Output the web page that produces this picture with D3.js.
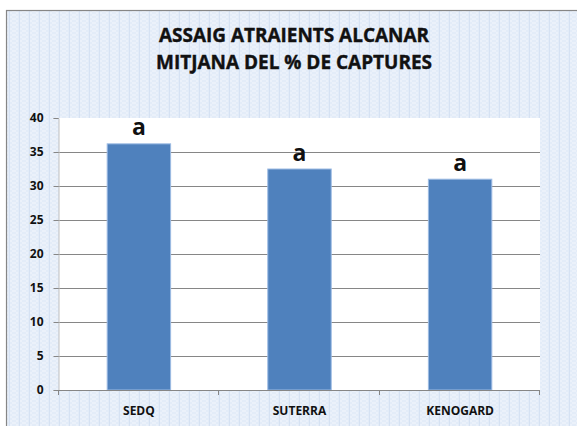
<!DOCTYPE html>
<html>
<head>
<meta charset="utf-8">
<script src="https://cdn.jsdelivr.net/npm/d3@7"></script>
<style>
  body { margin: 0; background: #fff; }
  svg { display: block; font-family: "Open Sans", sans-serif; }
</style>
</head>
<body>
<svg id="chart" width="577" height="426"></svg>
<script>
// dades del gràfic
const categories = ["SEDQ", "SUTERRA", "KENOGARD"];
const values = [36.2, 32.5, 31.0];
const letters = ["a", "a", "a"];
const yTicks = [0, 5, 10, 15, 20, 25, 30, 35, 40];
const titleLines = ["ASSAIG ATRAIENTS ALCANAR", "MITJANA DEL % DE CAPTURES"];

const svg = d3.select("#chart");

// fons amb trama blava
const defs = svg.append("defs");
const pat = defs.append("pattern")
    .attr("id", "trama")
    .attr("width", 10).attr("height", 4)
    .attr("patternUnits", "userSpaceOnUse");
pat.append("rect").attr("width", 10).attr("height", 4).attr("fill", "#e3ecf8");
pat.append("rect").attr("x", 0).attr("y", 0).attr("width", 2).attr("height", 2).attr("fill", "#ebf1fa");
pat.append("rect").attr("x", 2).attr("y", 2).attr("width", 2).attr("height", 2).attr("fill", "#ebf1fa");
pat.append("rect").attr("x", 6).attr("y", 0).attr("width", 2).attr("height", 2).attr("fill", "#ebf1fa");
pat.append("rect").attr("x", 4).attr("y", 2).attr("width", 2).attr("height", 2).attr("fill", "#ebf1fa");
pat.append("rect").attr("x", 9).attr("y", 0).attr("width", 1).attr("height", 4).attr("fill", "#d6e2f3");

svg.append("rect")
    .attr("x", 6.5).attr("y", 10.5)
    .attr("width", 600).attr("height", 450)
    .attr("fill", "url(#trama)")
    .attr("stroke", "#868686")
    .attr("stroke-width", 1.2);

// títol
svg.append("g").selectAll("text")
    .data(titleLines)
    .join("text")
    .attr("x", 294)
    .attr("y", (d, i) => 42 + i * 26.7)
    .attr("text-anchor", "middle")
    .attr("font-size", 19.5)
    .attr("font-weight", "bold")
    .attr("fill", "#111")
    .attr("stroke", "#111")
    .attr("stroke-width", 0.4)
    .attr("textLength", (d, i) => i === 0 ? 270 : 276)
    .attr("lengthAdjust", "spacingAndGlyphs")
    .text(d => d);

// àrea de dibuix
const plot = { left: 59, right: 540, top: 118, bottom: 390 };

const x = d3.scaleBand()
    .domain(categories)
    .range([plot.left, plot.right])
    .paddingInner(0.605)
    .paddingOuter(0.3);

const y = d3.scaleLinear()
    .domain([0, 40])
    .range([plot.bottom, plot.top]);

svg.append("rect")
    .attr("x", plot.left).attr("y", plot.top)
    .attr("width", plot.right - plot.left)
    .attr("height", plot.bottom - plot.top)
    .attr("fill", "#fff");

// línies de graella
svg.append("g")
    .selectAll("line")
    .data(yTicks.filter(d => d > 0 && d < 40))
    .join("line")
    .attr("x1", plot.left - 5).attr("x2", plot.right)
    .attr("y1", d => Math.round(y(d)) + 0.5)
    .attr("y2", d => Math.round(y(d)) + 0.5)
    .attr("stroke", "#868686");

// eix Y
const yAxis = svg.append("g")
    .attr("transform", `translate(${plot.left - 0.5},0)`)
    .call(d3.axisLeft(y).tickValues(yTicks).tickSize(5).tickPadding(10));
yAxis.select(".domain").attr("stroke", "#c0c0c0");
yAxis.selectAll(".tick line").attr("stroke", "#868686");
yAxis.selectAll(".tick text")
    .attr("font-size", 12)
    .attr("font-weight", "bold")
    .attr("fill", "#111")
    .attr("font-family", "Open Sans, sans-serif");

// barres
svg.append("g")
    .selectAll("rect")
    .data(values)
    .join("rect")
    .attr("x", (d, i) => x(categories[i]))
    .attr("y", d => y(d))
    .attr("width", x.bandwidth())
    .attr("height", d => y(0) - y(d))
    .attr("fill", "#4f81bd")
    .attr("stroke", "#9dbbe3")
    .attr("stroke-width", 1);

// lletres de significació
svg.append("g")
    .selectAll("text")
    .data(values)
    .join("text")
    .attr("x", (d, i) => x(categories[i]) + x.bandwidth() / 2)
    .attr("y", d => y(d) - 8.5)
    .attr("text-anchor", "middle")
    .attr("font-size", 23)
    .attr("font-weight", "bold")
    .attr("fill", "#111")
    .text((d, i) => letters[i]);

// eix X
const xb = d3.scaleLinear().domain([0, categories.length]).range([plot.left, plot.right]);
svg.append("line")
    .attr("x1", plot.left - 5).attr("x2", plot.right)
    .attr("y1", plot.bottom + 0.5).attr("y2", plot.bottom + 0.5)
    .attr("stroke", "#868686");
svg.append("g")
    .selectAll("line")
    .data(d3.range(categories.length + 1))
    .join("line")
    .attr("x1", d => Math.round(xb(d)) - 0.5)
    .attr("x2", d => Math.round(xb(d)) - 0.5)
    .attr("y1", plot.bottom).attr("y2", plot.bottom + 5)
    .attr("stroke", "#868686");

svg.append("g")
    .selectAll("text")
    .data(categories)
    .join("text")
    .attr("x", d => x(d) + x.bandwidth() / 2)
    .attr("y", 414.5)
    .attr("text-anchor", "middle")
    .attr("font-size", 12)
    .attr("font-weight", "bold")
    .attr("fill", "#111")
    .text(d => d);
</script>
</body>
</html>
